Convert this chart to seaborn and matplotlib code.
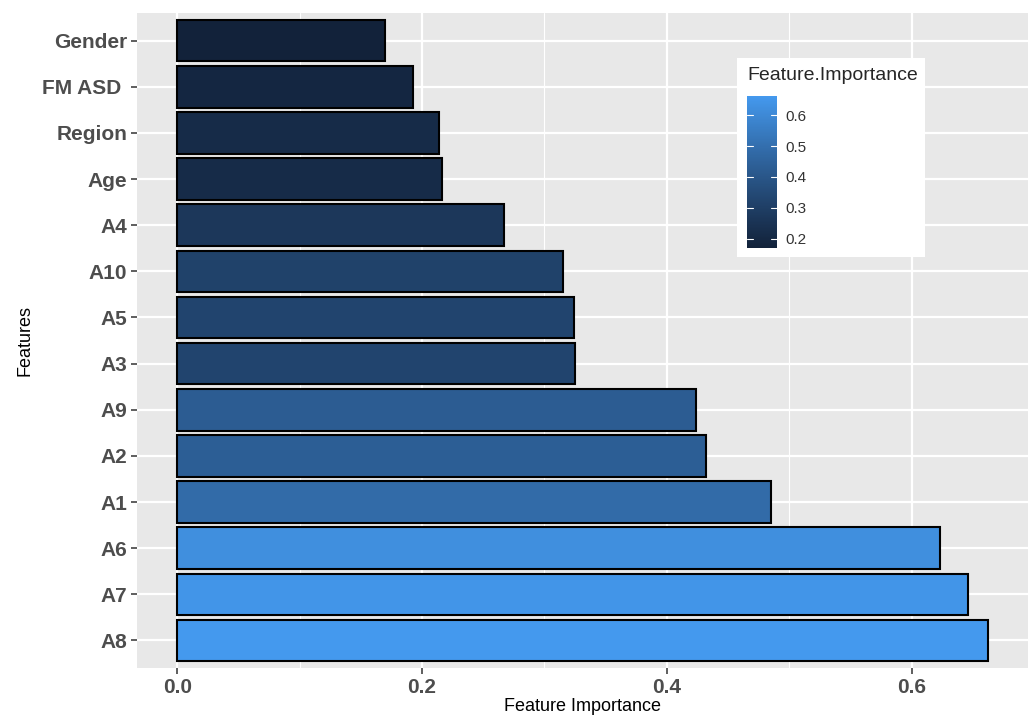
import numpy as np
import pandas as pd
import matplotlib
matplotlib.use("Agg")
import matplotlib.pyplot as plt
import seaborn as sns
from matplotlib.colors import ListedColormap, Normalize, to_rgb
from matplotlib.ticker import MultipleLocator

features = ["Gender", "FM ASD ", "Region", "Age", "A4", "A10", "A5", "A3",
            "A9", "A2", "A1", "A6", "A7", "A8"]
importance = [0.170, 0.193, 0.214, 0.216, 0.267, 0.315, 0.324, 0.325,
              0.424, 0.432, 0.485, 0.623, 0.646, 0.662]
xticks = [0.0, 0.2, 0.4, 0.6]
cbar_ticks = [0.2, 0.3, 0.4, 0.5, 0.6]
low_col, high_col = "#12223A", "#4499EE"

df = pd.DataFrame({"Features": features, "Feature.Importance": importance})


# --- Lab interpolation (like ggplot2's gradient) ---
def srgb_to_lin(c):
    c = np.asarray(c)
    return np.where(c <= 0.04045, c / 12.92, ((c + 0.055) / 1.055) ** 2.4)


def lin_to_srgb(c):
    c = np.clip(c, 0, 1)
    return np.where(c <= 0.0031308, 12.92 * c, 1.055 * c ** (1 / 2.4) - 0.055)


M = np.array([[0.4124, 0.3576, 0.1805], [0.2126, 0.7152, 0.0722], [0.0193, 0.1192, 0.9505]])
WHITE = np.array([0.95047, 1.0, 1.08883])


def f(t):
    d = 6 / 29
    return np.where(t > d ** 3, np.cbrt(t), t / (3 * d * d) + 4 / 29)


def finv(t):
    d = 6 / 29
    return np.where(t > d, t ** 3, 3 * d * d * (t - 4 / 29))


def rgb_to_lab(rgb):
    xyz = M @ srgb_to_lin(rgb) / WHITE
    fx, fy, fz = f(xyz)
    return np.array([116 * fy - 16, 500 * (fx - fy), 200 * (fy - fz)])


def lab_to_rgb(lab):
    L, a, b = lab
    fy = (L + 16) / 116
    xyz = np.array([finv(fy + a / 500), finv(fy), finv(fy - b / 200)]) * WHITE
    return lin_to_srgb(np.linalg.solve(M, xyz))


lab_lo, lab_hi = rgb_to_lab(to_rgb(low_col)), rgb_to_lab(to_rgb(high_col))
cmap = ListedColormap([lab_to_rgb(lab_lo + t * (lab_hi - lab_lo)) for t in np.linspace(0, 1, 256)])

sns.set_theme(style="darkgrid")
plt.rcParams['font.family'] = ['Liberation Sans', 'DejaVu Sans']
plt.rcParams.update({"xtick.major.size": 4, "ytick.major.size": 4,
                     "xtick.major.width": 1.1, "ytick.major.width": 1.1,
                     "xtick.bottom": True, "ytick.left": True})

norm = Normalize(vmin=min(importance), vmax=max(importance))
palette = {f_: cmap(norm(v)) for f_, v in zip(features, importance)}

fig = plt.figure(figsize=(10.29, 7.2), dpi=100)
ax = fig.add_axes([0.133, 0.072, 0.866, 0.910])
ax.set_facecolor("#E8E8E8")

sns.barplot(data=df, x="Feature.Importance", y="Features", hue="Features",
            palette=palette, order=features, legend=False, width=0.9,
            edgecolor="black", linewidth=1.5, ax=ax, saturation=1)

ax.set_xlim(-0.033, 0.695)
ax.set_ylim(len(features) - 0.4, -0.6)
ax.set_xticks(xticks)
ax.set_xticklabels([f"{t:.1f}" for t in xticks])
ax.xaxis.set_minor_locator(MultipleLocator(0.1))
ax.grid(which="major", color="white", linewidth=1.6)
ax.grid(which="minor", axis="x", color="white", linewidth=0.8)
ax.set_axisbelow(True)
for s in ax.spines.values():
    s.set_visible(False)

ax.tick_params(axis="both", which="major", length=4, width=1.1, color="#333333",
               labelcolor="#4D4D4D", pad=3, bottom=True, left=True)
ax.tick_params(axis="x", labelsize=15)
ax.tick_params(axis="y", labelsize=15)
ax.tick_params(axis="both", which="minor", length=0)
for lab in ax.get_xticklabels() + ax.get_yticklabels():
    lab.set_fontweight("bold")

ax.set_xlabel("Feature Importance", fontsize=13, color="black", labelpad=1)
ax.set_ylabel("Features", fontsize=13, color="black", labelpad=6)

# legend box
lx0, ly0, lw, lh = 737/1029, 1 - 257/720, 188/1029, 199/720
fig.patches.append(plt.Rectangle((lx0, ly0), lw, lh, transform=fig.transFigure,
                                 facecolor="white", edgecolor="none", zorder=5))
fig.text(747/1029, 1 - 76/720, "Feature.Importance", fontsize=14,
         va="center", ha="left", zorder=6)
cax = fig.add_axes([747/1029, 1 - 248/720, 30/1029, 152/720], zorder=6)
sm = matplotlib.cm.ScalarMappable(norm=norm, cmap=cmap)
cb = fig.colorbar(sm, cax=cax)
cb.outline.set_visible(False)
cb.set_ticks(cbar_ticks)
cb.set_ticklabels([f"{t:.1f}" for t in cbar_ticks])
cax.tick_params(length=0, labelsize=11, labelcolor="#333333", pad=6)
for t in cbar_ticks:
    cax.plot([0, 0.2], [t, t], color="white", lw=0.8)
    cax.plot([0.8, 1.0], [t, t], color="white", lw=0.8)
cax.set_xlim(0, 1)
cax.grid(False)

fig.savefig("out.png", dpi=100)
